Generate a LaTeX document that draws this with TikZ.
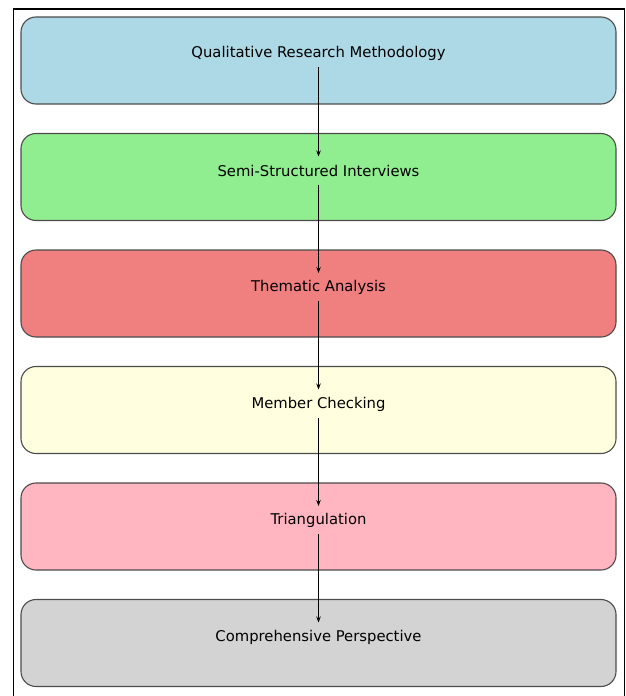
\documentclass[tikz,border=0pt]{standalone}
\usepackage{fontspec}
\setmainfont{DejaVu Sans}
\usetikzlibrary{arrows.meta}
\begin{document}
\begin{tikzpicture}[x=1pt,y=-1pt,
  stepbox/.style={draw=black!70, line width=1.1pt, rounded corners=15pt, minimum width=595pt, minimum height=87pt, inner sep=0pt},
  lbl/.style={font=\fontsize{14.8}{17}\selectfont, inner sep=0pt, anchor=center},
  conn/.style={-{Stealth[length=6pt,width=4.5pt]}, line width=0.8pt, black}]
\useasboundingbox (0,0) rectangle (626,696);
\clip (0,0) rectangle (626,696);
\fill[white] (0,0) rectangle (626,696);
\draw[line width=1.3pt] (13.5,720) -- (13.5,9) -- (624.5,9) -- (624.5,720);
\definecolor{cA}{HTML}{ADD8E6}
\definecolor{cB}{HTML}{90EE90}
\definecolor{cC}{HTML}{F08080}
\definecolor{cD}{HTML}{FFFFE0}
\definecolor{cE}{HTML}{FFB6C1}
\definecolor{cF}{HTML}{D3D3D3}
\node[stepbox, fill=cA] (b1) at (318.5,60.5) {};
\node[stepbox, fill=cB] (b2) at (318.5,177) {};
\node[stepbox, fill=cC] (b3) at (318.5,293.5) {};
\node[stepbox, fill=cD] (b4) at (318.5,410) {};
\node[stepbox, fill=cE] (b5) at (318.5,526.5) {};
\node[stepbox, fill=cF] (b6) at (318.5,643) {};
\node[lbl] (t1) at (318.5,53.5) {Qualitative Research Methodology};
\node[lbl] (t2) at (318.5,171) {Semi-Structured Interviews};
\node[lbl] (t3) at (318.5,287.5) {Thematic Analysis};
\node[lbl] (t4) at (318.5,404) {Member Checking};
\node[lbl] (t5) at (318.5,520.5) {Triangulation};
\node[lbl] (t6) at (318.5,637) {Comprehensive Perspective};
\draw[conn] ([yshift=-13.5pt]t1.center) -- ([yshift=14.5pt]t2.center);
\draw[conn] ([yshift=-13.5pt]t2.center) -- ([yshift=14.5pt]t3.center);
\draw[conn] ([yshift=-13.5pt]t3.center) -- ([yshift=14.5pt]t4.center);
\draw[conn] ([yshift=-13.5pt]t4.center) -- ([yshift=14.5pt]t5.center);
\draw[conn] ([yshift=-13.5pt]t5.center) -- ([yshift=14.5pt]t6.center);
\end{tikzpicture}
\end{document}
